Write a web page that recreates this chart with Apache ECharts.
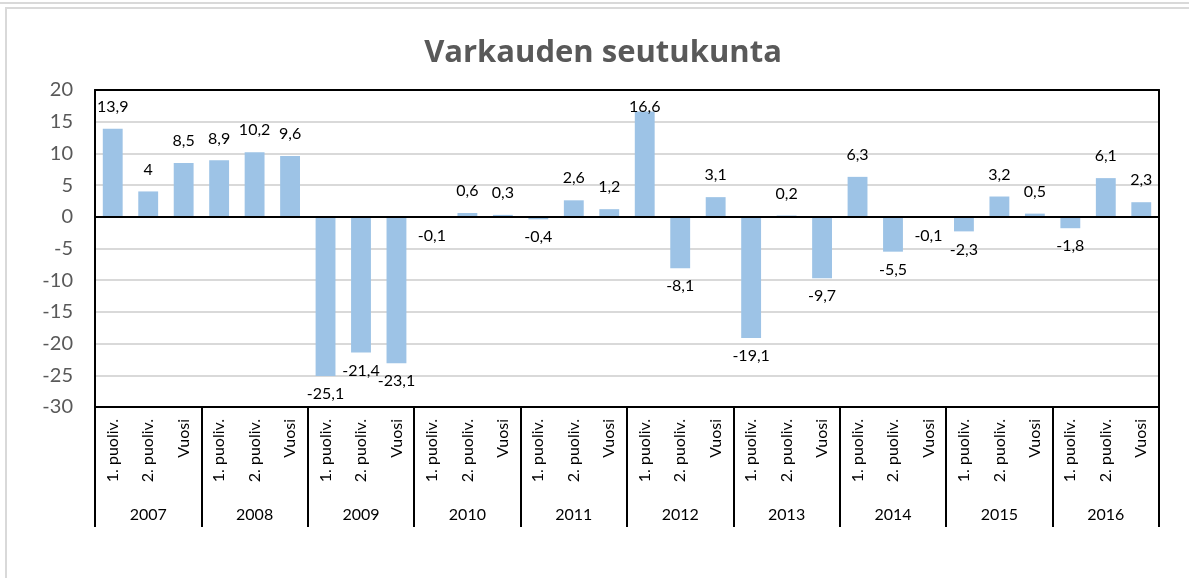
<!DOCTYPE html>
<html>
<head>
<meta charset="utf-8">
<script src="https://cdn.jsdelivr.net/npm/echarts@6/dist/echarts.min.js"></script>
<style>
  html, body { margin: 0; padding: 0; background: #fff; }
  .frame-top { position: absolute; left: 0; top: 2px; width: 1189px; height: 0; border-top: 2px solid #d9d9d9; }
  .frame { position: absolute; left: 5px; top: 7px; width: 1300px; height: 700px; border-left: 2px solid #d9d9d9; border-top: 2px solid #d9d9d9; }
  #chart { position: absolute; left: 0; top: 0; width: 1189px; height: 578px; }
</style>
</head>
<body>
<div class="frame-top"></div>
<div class="frame"></div>
<div id="chart"></div>
<script>
// categories
const years = ['2007', '2008', '2009', '2010', '2011', '2012', '2013', '2014', '2015', '2016']
const periods = ['1. puoliv.', '2. puoliv.', 'Vuosi']

// values per year: [1. puoliv., 2. puoliv., Vuosi]
const v2007 = [13.9, 4, 8.5]
const v2008 = [8.9, 10.2, 9.6]
const v2009 = [-25.1, -21.4, -23.1]
const v2010 = [-0.1, 0.6, 0.3]
const v2011 = [-0.4, 2.6, 1.2]
const v2012 = [16.6, -8.1, 3.1]
const v2013 = [-19.1, 0.2, -9.7]
const v2014 = [6.3, -5.5, -0.1]
const v2015 = [-2.3, 3.2, 0.5]
const v2016 = [-1.8, 6.1, 2.3]

const values = [].concat(v2007, v2008, v2009, v2010, v2011, v2012, v2013, v2014, v2015, v2016)
const categories = []
years.forEach(() => periods.forEach((p) => categories.push(p)))

const fmt = (v) => String(v).replace('.', ',')
const font = 'Lato, "Open Sans", sans-serif'
const blackLine = { show: true, onZero: false, lineStyle: { color: '#000', width: 2 } }

// label placement like Excel "outside end"; labels that would leave the plot are pulled inside
const labelFor = (v) => {
  if (v > 15) return { position: 'insideTop', offset: [0, -18] }
  if (v < 0) return { position: 'bottom', distance: 10 }
  return { position: 'top', distance: 14 }
}

const chart = echarts.init(document.getElementById('chart'))

chart.setOption({
  animation: false,
  title: {
    text: 'Varkauden seutukunta',
    left: 598,
    textAlign: 'center',
    top: 33,
    textStyle: { fontFamily: '"Open Sans", sans-serif', fontSize: 31, fontWeight: 'bold', color: '#595959' },
  },
  grid: {
    left: 95,
    right: 30,
    top: 90,
    bottom: 171,
  },
  xAxis: [
    {
      // period labels, bottom border of plot
      type: 'category',
      data: categories,
      axisLine: blackLine,
      axisTick: { show: false },
      axisLabel: {
        interval: 0,
        rotate: 90,
        margin: 12,
        color: '#000',
        fontFamily: font,
        fontSize: 16,
      },
    },
    {
      // year labels with group separators
      type: 'category',
      data: years,
      position: 'bottom',
      axisLine: { show: false, onZero: false },
      axisTick: { show: true, interval: 0, length: 120, lineStyle: { color: '#000', width: 2 } },
      axisLabel: {
        interval: 0,
        margin: 100,
        color: '#000',
        fontFamily: font,
        fontSize: 16,
      },
    },
    {
      // top border of plot
      type: 'category',
      data: years,
      position: 'top',
      axisLine: blackLine,
      axisTick: { show: false },
      axisLabel: { show: false },
    },
  ],
  yAxis: [
    {
      type: 'value',
      min: -30,
      max: 20,
      interval: 5,
      axisLine: blackLine,
      axisTick: { show: false },
      splitLine: { lineStyle: { color: '#d9d9d9', width: 2 } },
      axisLabel: { margin: 22, color: '#595959', fontFamily: font, fontSize: 20 },
    },
    {
      // right border of plot
      type: 'value',
      position: 'right',
      min: -30,
      max: 20,
      interval: 5,
      axisLine: blackLine,
      axisTick: { show: false },
      splitLine: { show: false },
      axisLabel: { show: false },
    },
  ],
  series: [
    {
      type: 'bar',
      barWidth: '56%',
      itemStyle: { color: '#9dc3e6' },
      data: values.map((v) => ({ value: v, label: labelFor(v) })),
      label: {
        show: true,
        color: '#000',
        fontFamily: font,
        fontSize: 16,
        formatter: (p) => fmt(p.value),
      },
      markLine: {
        silent: true,
        symbol: 'none',
        label: { show: false },
        lineStyle: { color: '#000', width: 2, type: 'solid' },
        data: [{ yAxis: 0 }],
      },
    },
  ],
})
</script>
</body>
</html>
